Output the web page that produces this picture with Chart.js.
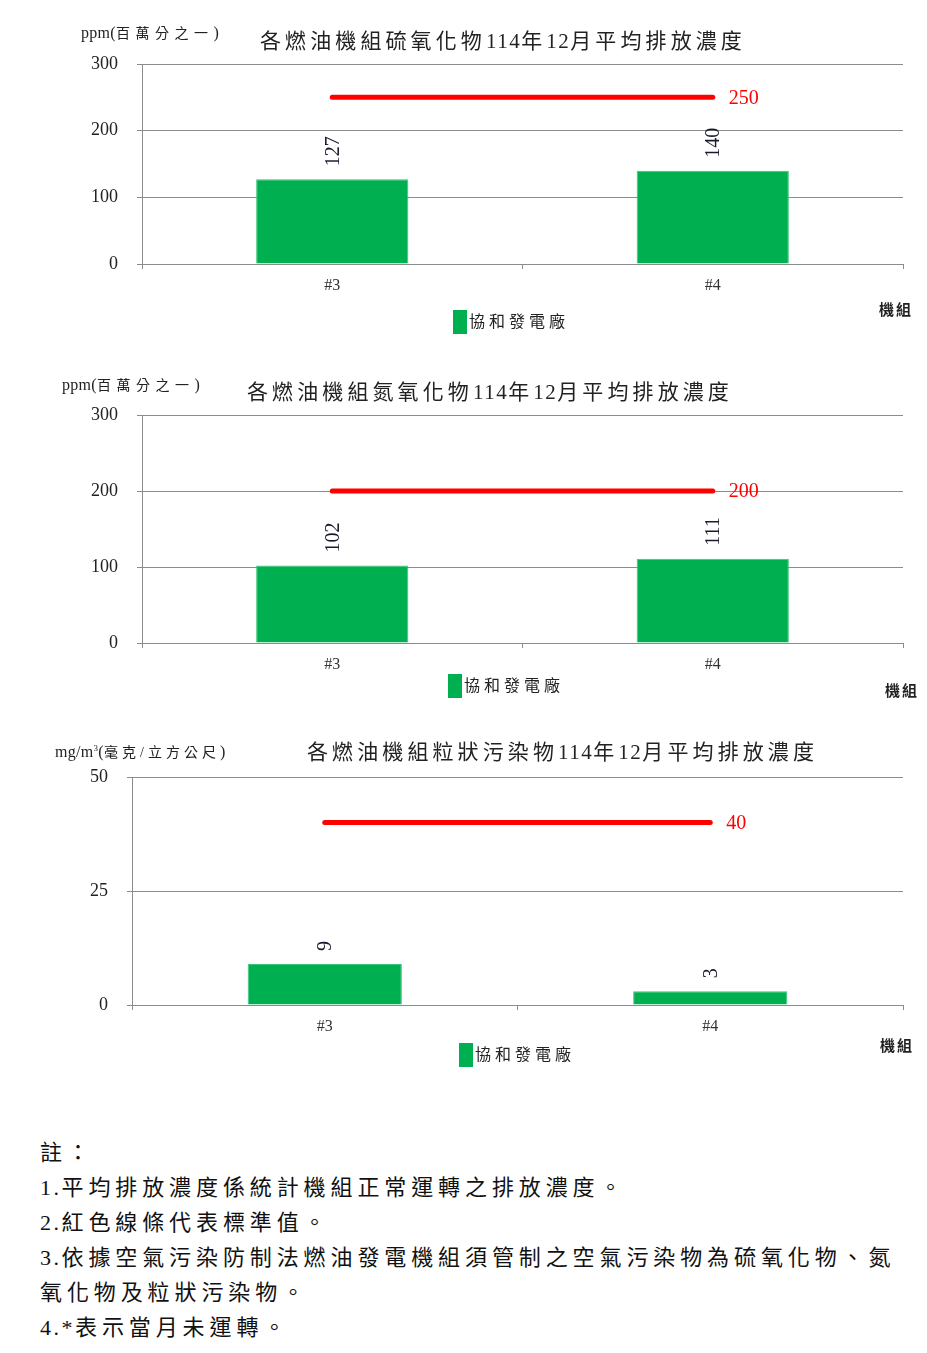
<!DOCTYPE html>
<html lang="zh-Hant">
<head>
<meta charset="utf-8">
<script src="https://cdn.jsdelivr.net/npm/chart.js@4.4.0/dist/chart.umd.min.js"></script>
<style>
  body { margin: 0; background: #fff; }
  #page { position: relative; width: 927px; height: 1353px; overflow: hidden;
          font-family: 'Liberation Serif', 'Noto Sans CJK TC', serif; color: #222; }
  canvas { position: absolute; left: 0; }
  .t { position: absolute; white-space: nowrap; line-height: 1; }
  .title { font-size: 21px; letter-spacing: 4.1px; }
  .title .a { letter-spacing: 1.5px; }
  .unit { font-size: 14px; letter-spacing: 5.5px; }
  .unit .a { font-size: 16px; letter-spacing: 0.3px; }
  .lg { position: absolute; font-size: 16px; letter-spacing: 4px; line-height: 24px; white-space: nowrap; }
  .lg i { display: inline-block; width: 14px; height: 24px; background: #00b050; vertical-align: top; margin-right: 2px; }
  .axt { font-size: 15px; font-weight: bold; letter-spacing: 2px; }
  #notes { position: absolute; left: 40px; top: 1135px; font-size: 22px; letter-spacing: 4.9px; line-height: 35px; color: #111; }
  #notes .a { letter-spacing: 2.5px; }
</style>
</head>
<body>
<div id="page">
  <canvas id="c1" width="927" height="345" style="top:0"></canvas>
  <canvas id="c2" width="927" height="365" style="top:345px"></canvas>
  <canvas id="c3" width="927" height="390" style="top:710px"></canvas>

  <div class="t unit mix" style="left:81px;top:25px">ppm(百萬分之一)</div>
  <div class="t title mix" style="left:260px;top:31px">各燃油機組硫氧化物114年12月平均排放濃度</div>
  <div class="lg" id="lg1" style="left:453px;top:310px"></div>
  <div class="t axt" style="left:879px;top:303px">機組</div>

  <div class="t unit mix" style="left:62px;top:377px">ppm(百萬分之一)</div>
  <div class="t title mix" style="left:247px;top:382px">各燃油機組氮氧化物114年12月平均排放濃度</div>
  <div class="lg" id="lg2" style="left:448px;top:674px"></div>
  <div class="t axt" style="left:885px;top:684px">機組</div>

  <div class="t unit" style="left:55px;top:744px;letter-spacing:4px"><span style="font-size:16px;letter-spacing:0.3px">mg/m<sup style="font-size:9px">3</sup>(</span>毫克/立方公尺<span style="font-size:16px">)</span></div>
  <div class="t title mix" style="left:307px;top:742px">各燃油機組粒狀污染物114年12月平均排放濃度</div>
  <div class="lg" id="lg3" style="left:459px;top:1043px"></div>
  <div class="t axt" style="left:880px;top:1039px">機組</div>

  <div id="notes" class="mix">註：<br>1.平均排放濃度係統計機組正常運轉之排放濃度。<br>2.紅色線條代表標準值。<br>3.依據空氣污染防制法燃油發電機組須管制之空氣污染物為硫氧化物、氮<br>氧化物及粒狀污染物。<br>4.*表示當月未運轉。</div>
</div>

<script>
// data
var units = ['#3', '#4'];
var plantName = '協和發電廠';

var soxValues = [127, 140];
var soxLimit = 250;
var noxValues = [102, 111];
var noxLimit = 200;
var pmValues = [9, 3];
var pmLimit = 40;

var ppmTicks = [0, 100, 200, 300];
var pmTicks = [0, 25, 50];

var FONT = "'Liberation Serif', 'Noto Sans CJK TC', serif";
var GRID = '#8c8c8c';

// bar value labels (rotated) and the limit value at the end of the red line
var valueLabels = {
  id: 'valueLabels',
  afterDatasetsDraw: function(chart) {
    var ctx = chart.ctx;
    var bars = chart.getDatasetMeta(0).data;
    var values = chart.data.datasets[0].data;
    ctx.save();
    ctx.fillStyle = '#1a1a2e';
    ctx.font = '20px ' + FONT;
    ctx.textAlign = 'left';
    ctx.textBaseline = 'middle';
    bars.forEach(function(bar, i) {
      ctx.save();
      ctx.translate(bar.x, bar.y - 13);
      ctx.rotate(-Math.PI / 2);
      ctx.fillText(String(values[i]), 0, 1);
      ctx.restore();
    });
    var pts = chart.getDatasetMeta(1).data;
    var last = pts[pts.length - 1];
    ctx.fillStyle = '#ff0000';
    ctx.fillText(String(chart.data.datasets[1].data[pts.length - 1]), last.x + 16, last.y + 1);
    ctx.restore();
  }
};

function makeChart(id, values, limit, ticks, pad, leftW) {
  var max = ticks[ticks.length - 1];
  return new Chart(document.getElementById(id), {
    data: {
      labels: units,
      datasets: [{
        type: 'bar',
        label: plantName,
        data: values,
        backgroundColor: '#00b050',
        borderColor: '#3cc47a',
        borderWidth: 1,
        categoryPercentage: 1,
        barPercentage: 0.4,
        order: 2
      }, {
        type: 'line',
        label: '標準值',
        data: units.map(function() { return limit; }),
        borderColor: '#ff0000',
        borderWidth: 5,
        borderCapStyle: 'round',
        pointRadius: 0,
        fill: false,
        order: 1
      }]
    },
    options: {
      responsive: false,
      animation: false,
      layout: { padding: pad },
      plugins: { legend: { display: false }, tooltip: { enabled: false } },
      scales: {
        x: {
          offset: true,
          grid: { offset: true, drawOnChartArea: false, drawTicks: true, tickLength: 5, color: GRID },
          border: { display: true, color: GRID },
          ticks: { color: '#333', padding: 7, font: { family: FONT, size: 16 } },
          afterFit: function(s) { s.height = 30; }
        },
        y: {
          min: 0,
          max: max,
          afterBuildTicks: function(s) { s.ticks = ticks.map(function(v) { return { value: v }; }); },
          grid: { color: GRID, tickLength: 5 },
          border: { display: true, color: GRID },
          ticks: { color: '#222', padding: 19, font: { family: FONT, size: 18 } },
          afterFit: function(s) { s.width = leftW; }
        }
      }
    },
    plugins: [valueLabels]
  });
}

makeChart('c1', soxValues, soxLimit, ppmTicks, { top: 64, bottom: 51, left: 0, right: 24 }, 142);
makeChart('c2', noxValues, noxLimit, ppmTicks, { top: 70, bottom: 37, left: 0, right: 24 }, 142);
makeChart('c3', pmValues, pmLimit, pmTicks, { top: 67, bottom: 65, left: 0, right: 24 }, 132);

['lg1', 'lg2', 'lg3'].forEach(function(id) {
  document.getElementById(id).innerHTML = '<i></i>' + plantName;
});

// keep latin runs tight, CJK runs spaced
document.querySelectorAll('.mix').forEach(function(el) {
  el.innerHTML = el.innerHTML.replace(/([0-9A-Za-z.*#()]+)(?![^<]*>)/g, '<span class="a">$1</span>');
});
</script>
</body>
</html>
